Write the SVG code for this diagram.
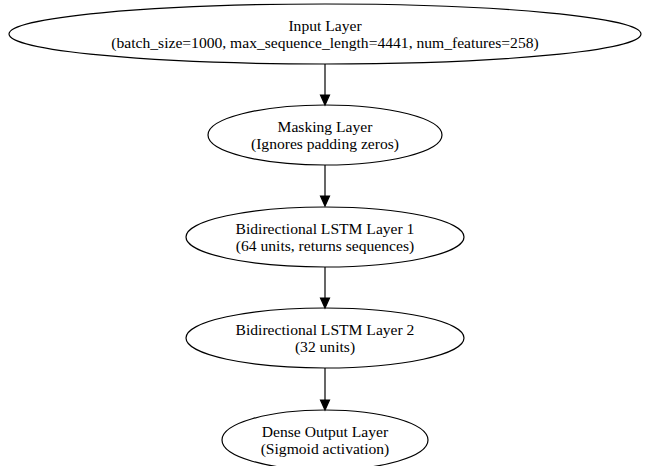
<svg xmlns="http://www.w3.org/2000/svg" width="646" height="466" viewBox="0 0 646 466">
  <style>
    .node ellipse { fill: none; stroke: #000; stroke-width: 1.2; }
    .node text { font-family: "Liberation Serif", "Times New Roman", serif; font-size: 15.6px; fill: #000; text-anchor: middle; }
    .edge line { stroke: #000; stroke-width: 1.2; }
    .edge polygon { fill: #000; stroke: #000; stroke-width: 1.2; }
  </style>
  <rect width="646" height="466" fill="#fff"/>

  <g id="edges">
    <g class="edge"><line x1="325" y1="64" x2="325" y2="95"/><polygon points="320.5,95 329.5,95 325,105"/></g>
    <g class="edge"><line x1="325" y1="165" x2="325" y2="196"/><polygon points="320.5,196 329.5,196 325,206"/></g>
    <g class="edge"><line x1="325" y1="267" x2="325" y2="298"/><polygon points="320.5,298 329.5,298 325,308"/></g>
    <g class="edge"><line x1="325" y1="368" x2="325" y2="400"/><polygon points="320.5,400 329.5,400 325,410"/></g>
  </g>

  <g id="input" class="node">
    <ellipse cx="325" cy="34" rx="316" ry="30"/>
    <text x="325" y="30.5">Input Layer</text>
    <text x="325" y="47.5">(batch_size=1000, max_sequence_length=4441, num_features=258)</text>
  </g>
  <g id="masking" class="node">
    <ellipse cx="325" cy="135" rx="117" ry="30"/>
    <text x="325" y="131.5">Masking Layer</text>
    <text x="325" y="148.5">(Ignores padding zeros)</text>
  </g>
  <g id="lstm1" class="node">
    <ellipse cx="325" cy="237" rx="139" ry="30"/>
    <text x="325" y="233.5">Bidirectional LSTM Layer 1</text>
    <text x="325" y="250.5">(64 units, returns sequences)</text>
  </g>
  <g id="lstm2" class="node">
    <ellipse cx="325" cy="338" rx="139" ry="30"/>
    <text x="325" y="334.5">Bidirectional LSTM Layer 2</text>
    <text x="325" y="351.5">(32 units)</text>
  </g>
  <g id="dense" class="node">
    <ellipse cx="325" cy="440" rx="103" ry="30"/>
    <text x="325" y="436.5">Dense Output Layer</text>
    <text x="325" y="453.5">(Sigmoid activation)</text>
  </g>
</svg>
